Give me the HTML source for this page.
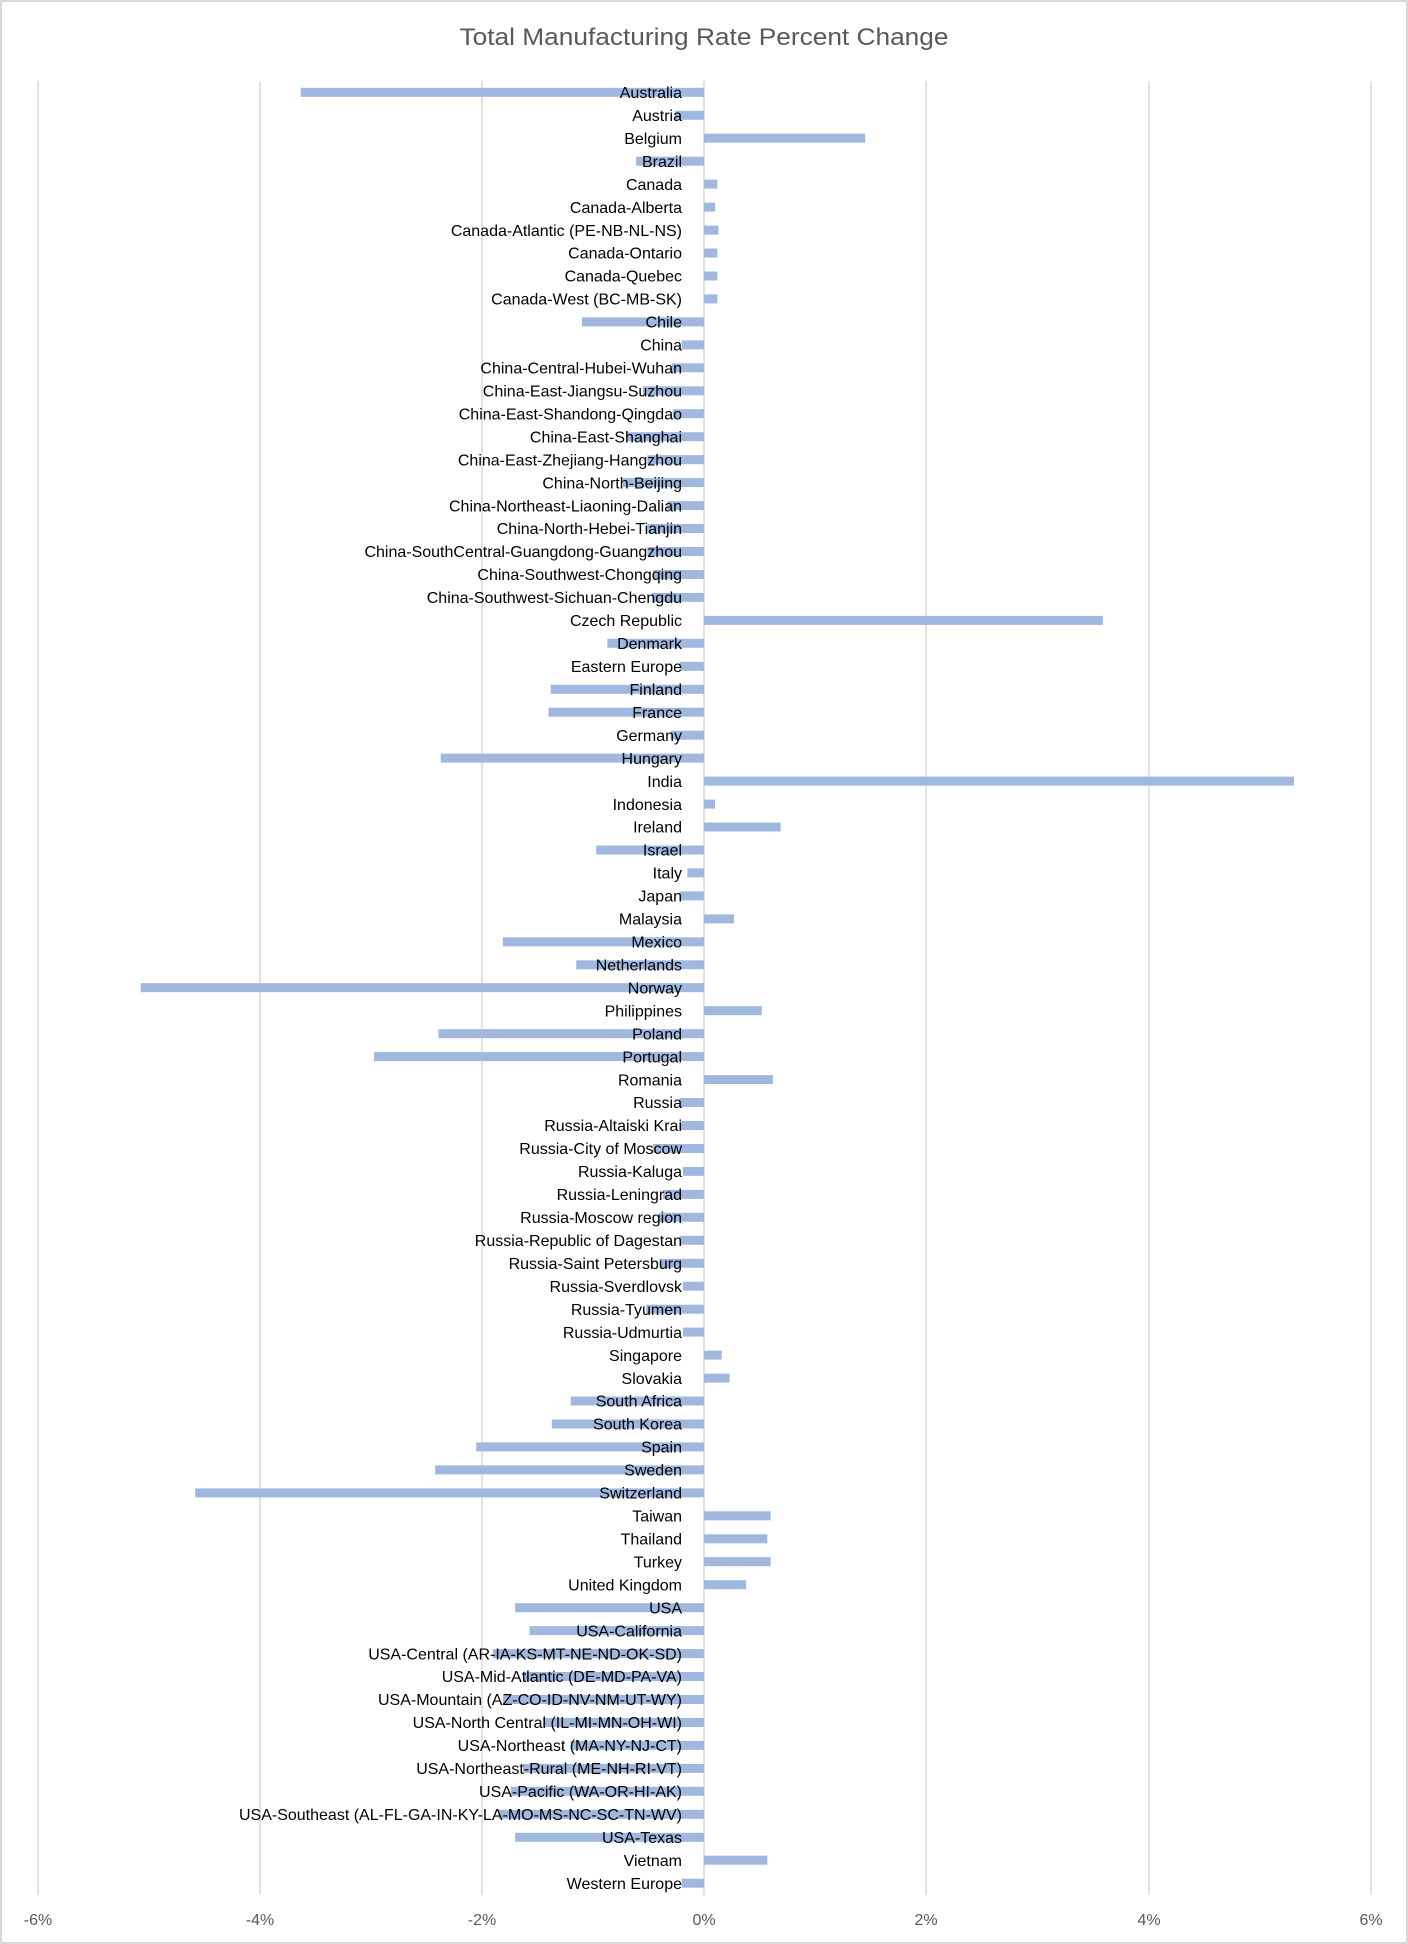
<!DOCTYPE html>
<html><head><meta charset="utf-8"><style>
html,body{margin:0;padding:0;background:#fff}
svg{display:block}
.l{font-family:"Liberation Sans",sans-serif;font-size:16px;fill:#000;text-anchor:end}
.t{font-family:"Liberation Sans",sans-serif;font-size:16px;fill:#595959;text-anchor:middle}
</style></head><body>
<svg width="1408" height="1944" viewBox="0 0 1408 1944" xmlns="http://www.w3.org/2000/svg">
<rect x="1" y="1" width="1406" height="1942" fill="#fff" stroke="#d9d9d9" stroke-width="2"/>
<text x="704" y="45" font-family="Liberation Sans, sans-serif" font-size="24" fill="#595959" text-anchor="middle" textLength="489" lengthAdjust="spacingAndGlyphs">Total Manufacturing Rate Percent Change</text>
<g stroke="#d9d9d9" stroke-width="1.5">
<line x1="38" y1="81" x2="38" y2="1895"/><line x1="260" y1="81" x2="260" y2="1895"/><line x1="482" y1="81" x2="482" y2="1895"/><line x1="704" y1="81" x2="704" y2="1895"/><line x1="926" y1="81" x2="926" y2="1895"/><line x1="1149" y1="81" x2="1149" y2="1895"/><line x1="1371" y1="81" x2="1371" y2="1895"/>
</g>
<g transform="translate(704 0) scale(111.1 1)" fill="#a0b8e0">
<rect x="-3.63" y="87.8" width="3.63" height="9"/>
<rect x="-0.26" y="110.8" width="0.26" height="9"/>
<rect x="0" y="133.7" width="1.45" height="9"/>
<rect x="-0.61" y="156.7" width="0.61" height="9"/>
<rect x="0" y="179.6" width="0.12" height="9"/>
<rect x="0" y="202.6" width="0.1" height="9"/>
<rect x="0" y="225.6" width="0.13" height="9"/>
<rect x="0" y="248.5" width="0.12" height="9"/>
<rect x="0" y="271.5" width="0.12" height="9"/>
<rect x="0" y="294.4" width="0.12" height="9"/>
<rect x="-1.1" y="317.4" width="1.1" height="9"/>
<rect x="-0.2" y="340.4" width="0.2" height="9"/>
<rect x="-0.29" y="363.3" width="0.29" height="9"/>
<rect x="-0.55" y="386.3" width="0.55" height="9"/>
<rect x="-0.28" y="409.2" width="0.28" height="9"/>
<rect x="-0.69" y="432.2" width="0.69" height="9"/>
<rect x="-0.51" y="455.2" width="0.51" height="9"/>
<rect x="-0.73" y="478.1" width="0.73" height="9"/>
<rect x="-0.33" y="501.1" width="0.33" height="9"/>
<rect x="-0.51" y="524" width="0.51" height="9"/>
<rect x="-0.51" y="547" width="0.51" height="9"/>
<rect x="-0.46" y="570" width="0.46" height="9"/>
<rect x="-0.47" y="592.9" width="0.47" height="9"/>
<rect x="0" y="615.9" width="3.59" height="9"/>
<rect x="-0.87" y="638.8" width="0.87" height="9"/>
<rect x="-0.22" y="661.8" width="0.22" height="9"/>
<rect x="-1.38" y="684.8" width="1.38" height="9"/>
<rect x="-1.4" y="707.7" width="1.4" height="9"/>
<rect x="-0.3" y="730.7" width="0.3" height="9"/>
<rect x="-2.37" y="753.6" width="2.37" height="9"/>
<rect x="0" y="776.6" width="5.31" height="9"/>
<rect x="0" y="799.6" width="0.1" height="9"/>
<rect x="0" y="822.5" width="0.69" height="9"/>
<rect x="-0.97" y="845.5" width="0.97" height="9"/>
<rect x="-0.15" y="868.4" width="0.15" height="9"/>
<rect x="-0.22" y="891.4" width="0.22" height="9"/>
<rect x="0" y="914.4" width="0.27" height="9"/>
<rect x="-1.81" y="937.3" width="1.81" height="9"/>
<rect x="-1.15" y="960.3" width="1.15" height="9"/>
<rect x="-5.07" y="983.2" width="5.07" height="9"/>
<rect x="0" y="1006.2" width="0.52" height="9"/>
<rect x="-2.39" y="1029.2" width="2.39" height="9"/>
<rect x="-2.97" y="1052.1" width="2.97" height="9"/>
<rect x="0" y="1075.1" width="0.62" height="9"/>
<rect x="-0.22" y="1098" width="0.22" height="9"/>
<rect x="-0.22" y="1121" width="0.22" height="9"/>
<rect x="-0.46" y="1144" width="0.46" height="9"/>
<rect x="-0.19" y="1166.9" width="0.19" height="9"/>
<rect x="-0.37" y="1189.9" width="0.37" height="9"/>
<rect x="-0.4" y="1212.8" width="0.4" height="9"/>
<rect x="-0.22" y="1235.8" width="0.22" height="9"/>
<rect x="-0.4" y="1258.8" width="0.4" height="9"/>
<rect x="-0.19" y="1281.7" width="0.19" height="9"/>
<rect x="-0.52" y="1304.7" width="0.52" height="9"/>
<rect x="-0.19" y="1327.6" width="0.19" height="9"/>
<rect x="0" y="1350.6" width="0.16" height="9"/>
<rect x="0" y="1373.6" width="0.23" height="9"/>
<rect x="-1.2" y="1396.5" width="1.2" height="9"/>
<rect x="-1.37" y="1419.5" width="1.37" height="9"/>
<rect x="-2.05" y="1442.4" width="2.05" height="9"/>
<rect x="-2.42" y="1465.4" width="2.42" height="9"/>
<rect x="-4.58" y="1488.4" width="4.58" height="9"/>
<rect x="0" y="1511.3" width="0.6" height="9"/>
<rect x="0" y="1534.3" width="0.57" height="9"/>
<rect x="0" y="1557.2" width="0.6" height="9"/>
<rect x="0" y="1580.2" width="0.38" height="9"/>
<rect x="-1.7" y="1603.2" width="1.7" height="9"/>
<rect x="-1.57" y="1626.1" width="1.57" height="9"/>
<rect x="-1.9" y="1649.1" width="1.9" height="9"/>
<rect x="-1.63" y="1672" width="1.63" height="9"/>
<rect x="-1.81" y="1695" width="1.81" height="9"/>
<rect x="-1.45" y="1718" width="1.45" height="9"/>
<rect x="-1.2" y="1740.9" width="1.2" height="9"/>
<rect x="-1.63" y="1763.9" width="1.63" height="9"/>
<rect x="-1.74" y="1786.8" width="1.74" height="9"/>
<rect x="-1.85" y="1809.8" width="1.85" height="9"/>
<rect x="-1.7" y="1832.8" width="1.7" height="9"/>
<rect x="0" y="1855.7" width="0.57" height="9"/>
<rect x="-0.2" y="1878.7" width="0.2" height="9"/>
</g>
<g class="l">
<text class="l" x="682" y="98">Australia</text>
<text class="l" x="682" y="121">Austria</text>
<text class="l" x="682" y="143.9">Belgium</text>
<text class="l" x="682" y="166.9">Brazil</text>
<text class="l" x="682" y="189.8">Canada</text>
<text class="l" x="682" y="212.8">Canada-Alberta</text>
<text class="l" x="682" y="235.8">Canada-Atlantic (PE-NB-NL-NS)</text>
<text class="l" x="682" y="258.7">Canada-Ontario</text>
<text class="l" x="682" y="281.7">Canada-Quebec</text>
<text class="l" x="682" y="304.6">Canada-West (BC-MB-SK)</text>
<text class="l" x="682" y="327.6">Chile</text>
<text class="l" x="682" y="350.6">China</text>
<text class="l" x="682" y="373.5">China-Central-Hubei-Wuhan</text>
<text class="l" x="682" y="396.5">China-East-Jiangsu-Suzhou</text>
<text class="l" x="682" y="419.4">China-East-Shandong-Qingdao</text>
<text class="l" x="682" y="442.4">China-East-Shanghai</text>
<text class="l" x="682" y="465.4">China-East-Zhejiang-Hangzhou</text>
<text class="l" x="682" y="488.3">China-North-Beijing</text>
<text class="l" x="682" y="511.3">China-Northeast-Liaoning-Dalian</text>
<text class="l" x="682" y="534.2">China-North-Hebei-Tianjin</text>
<text class="l" x="682" y="557.2">China-SouthCentral-Guangdong-Guangzhou</text>
<text class="l" x="682" y="580.2">China-Southwest-Chongqing</text>
<text class="l" x="682" y="603.1">China-Southwest-Sichuan-Chengdu</text>
<text class="l" x="682" y="626.1">Czech Republic</text>
<text class="l" x="682" y="649">Denmark</text>
<text class="l" x="682" y="672">Eastern Europe</text>
<text class="l" x="682" y="695">Finland</text>
<text class="l" x="682" y="717.9">France</text>
<text class="l" x="682" y="740.9">Germany</text>
<text class="l" x="682" y="763.8">Hungary</text>
<text class="l" x="682" y="786.8">India</text>
<text class="l" x="682" y="809.8">Indonesia</text>
<text class="l" x="682" y="832.7">Ireland</text>
<text class="l" x="682" y="855.7">Israel</text>
<text class="l" x="682" y="878.6">Italy</text>
<text class="l" x="682" y="901.6">Japan</text>
<text class="l" x="682" y="924.6">Malaysia</text>
<text class="l" x="682" y="947.5">Mexico</text>
<text class="l" x="682" y="970.5">Netherlands</text>
<text class="l" x="682" y="993.4">Norway</text>
<text class="l" x="682" y="1016.4">Philippines</text>
<text class="l" x="682" y="1039.4">Poland</text>
<text class="l" x="682" y="1062.3">Portugal</text>
<text class="l" x="682" y="1085.3">Romania</text>
<text class="l" x="682" y="1108.2">Russia</text>
<text class="l" x="682" y="1131.2">Russia-Altaiski Krai</text>
<text class="l" x="682" y="1154.2">Russia-City of Moscow</text>
<text class="l" x="682" y="1177.1">Russia-Kaluga</text>
<text class="l" x="682" y="1200.1">Russia-Leningrad</text>
<text class="l" x="682" y="1223">Russia-Moscow region</text>
<text class="l" x="682" y="1246">Russia-Republic of Dagestan</text>
<text class="l" x="682" y="1269">Russia-Saint Petersburg</text>
<text class="l" x="682" y="1291.9">Russia-Sverdlovsk</text>
<text class="l" x="682" y="1314.9">Russia-Tyumen</text>
<text class="l" x="682" y="1337.8">Russia-Udmurtia</text>
<text class="l" x="682" y="1360.8">Singapore</text>
<text class="l" x="682" y="1383.8">Slovakia</text>
<text class="l" x="682" y="1406.7">South Africa</text>
<text class="l" x="682" y="1429.7">South Korea</text>
<text class="l" x="682" y="1452.6">Spain</text>
<text class="l" x="682" y="1475.6">Sweden</text>
<text class="l" x="682" y="1498.6">Switzerland</text>
<text class="l" x="682" y="1521.5">Taiwan</text>
<text class="l" x="682" y="1544.5">Thailand</text>
<text class="l" x="682" y="1567.4">Turkey</text>
<text class="l" x="682" y="1590.4">United Kingdom</text>
<text class="l" x="682" y="1613.4">USA</text>
<text class="l" x="682" y="1636.3">USA-California</text>
<text class="l" x="682" y="1659.3">USA-Central (AR-IA-KS-MT-NE-ND-OK-SD)</text>
<text class="l" x="682" y="1682.2">USA-Mid-Atlantic (DE-MD-PA-VA)</text>
<text class="l" x="682" y="1705.2">USA-Mountain (AZ-CO-ID-NV-NM-UT-WY)</text>
<text class="l" x="682" y="1728.2">USA-North Central (IL-MI-MN-OH-WI)</text>
<text class="l" x="682" y="1751.1">USA-Northeast (MA-NY-NJ-CT)</text>
<text class="l" x="682" y="1774.1">USA-Northeast-Rural (ME-NH-RI-VT)</text>
<text class="l" x="682" y="1797">USA-Pacific (WA-OR-HI-AK)</text>
<text class="l" x="682" y="1820">USA-Southeast (AL-FL-GA-IN-KY-LA-MO-MS-NC-SC-TN-WV)</text>
<text class="l" x="682" y="1843">USA-Texas</text>
<text class="l" x="682" y="1865.9">Vietnam</text>
<text class="l" x="682" y="1888.9">Western Europe</text>
</g>
<g>
<text class="t" x="38" y="1925">-6%</text>
<text class="t" x="260" y="1925">-4%</text>
<text class="t" x="482" y="1925">-2%</text>
<text class="t" x="704" y="1925">0%</text>
<text class="t" x="926" y="1925">2%</text>
<text class="t" x="1149" y="1925">4%</text>
<text class="t" x="1371" y="1925">6%</text>
</g>
</svg>
</body></html>
